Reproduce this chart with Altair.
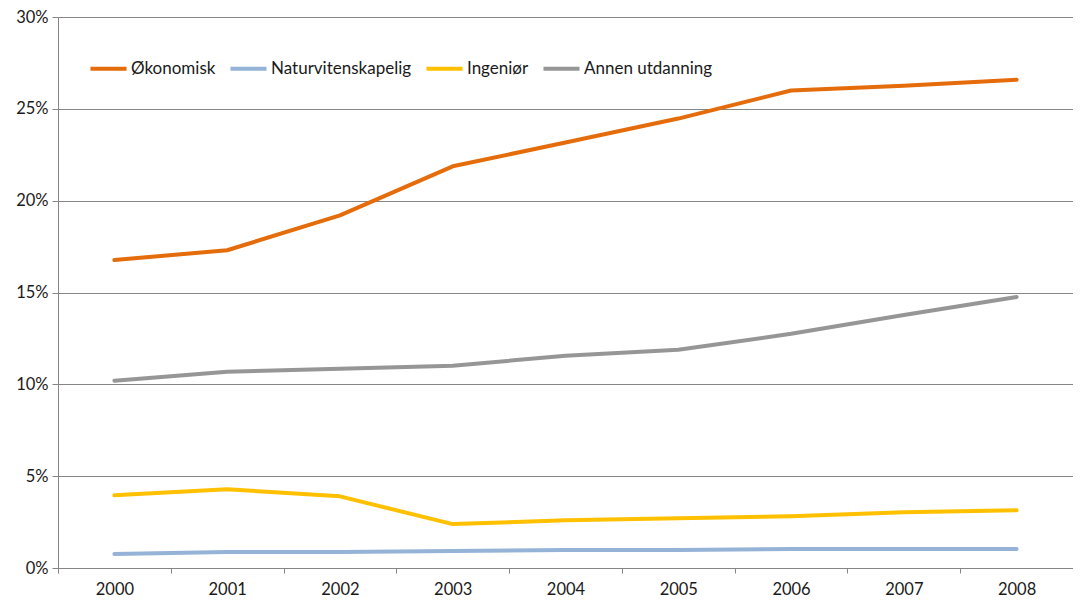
import altair as alt
import pandas as pd

years = ["2000", "2001", "2002", "2003", "2004", "2005", "2006", "2007", "2008"]
series_names = ["Økonomisk", "Naturvitenskapelig", "Ingeniør", "Annen utdanning"]
okonomisk = [16.77, 17.3, 19.2, 21.87, 23.17, 24.47, 26.0, 26.26, 26.59]
naturvit = [0.76, 0.87, 0.87, 0.92, 0.98, 0.98, 1.03, 1.03, 1.03]
ingenior = [3.96, 4.29, 3.9, 2.39, 2.6, 2.71, 2.82, 3.04, 3.15]
annen = [10.2, 10.69, 10.85, 11.01, 11.56, 11.88, 12.75, 13.78, 14.76]
colors = ["#E46C0A", "#95B3D7", "#FFC000", "#969696"]
y_ticks = [0, 5, 10, 15, 20, 25, 30]

rows = []
for name, vals in zip(series_names, [okonomisk, naturvit, ingenior, annen]):
    for yr, v in zip(years, vals):
        rows.append({"year": yr, "serie": name, "value": v})
df = pd.DataFrame(rows)

FONT = "Lato"

chart = alt.Chart(df).mark_line(strokeWidth=4, strokeCap="round", strokeJoin="round").encode(
    x=alt.X("year:O", sort=years, bandPosition=0.5,
            scale=alt.Scale(type="band", paddingInner=0, paddingOuter=0),
            axis=alt.Axis(title=None, tickBand="extent", grid=False, labelAngle=0,
                          domainColor="#868686", tickColor="#868686", tickSize=5,
                          labelPadding=8, labelFontSize=16.5, labelColor="#1a1a1a",
                          labelFont=FONT)),
    y=alt.Y("value:Q", scale=alt.Scale(domain=[0, 30], nice=False),
            axis=alt.Axis(title=None, values=y_ticks, labelExpr="datum.value + '%'",
                          grid=True, gridColor="#868686", gridWidth=1,
                          domainColor="#868686", tickColor="#868686", tickSize=6,
                          labelPadding=4, labelFontSize=16.5, labelColor="#1a1a1a",
                          labelFont=FONT)),
    color=alt.Color("serie:N", sort=series_names,
                    scale=alt.Scale(domain=series_names, range=colors),
                    legend=alt.Legend(title=None, orient="none", direction="horizontal",
                                      legendX=30, legendY=31, symbolType="stroke",
                                      symbolSize=1300, symbolStrokeWidth=4,
                                      labelFontSize=17, labelFont=FONT, labelColor="#1a1a1a",
                                      labelOffset=2, columnPadding=6)),
    order=alt.Order("year:O"),
).properties(
    width=1015, height=551,
    autosize=alt.AutoSizeParams(type="none"),
    padding={"left": 50, "top": 9, "right": 0, "bottom": 30},
).configure_view(stroke=None).configure_axisY(domainWidth=1)

chart.save("out.html", embed_options={"renderer": "svg", "actions": False})
